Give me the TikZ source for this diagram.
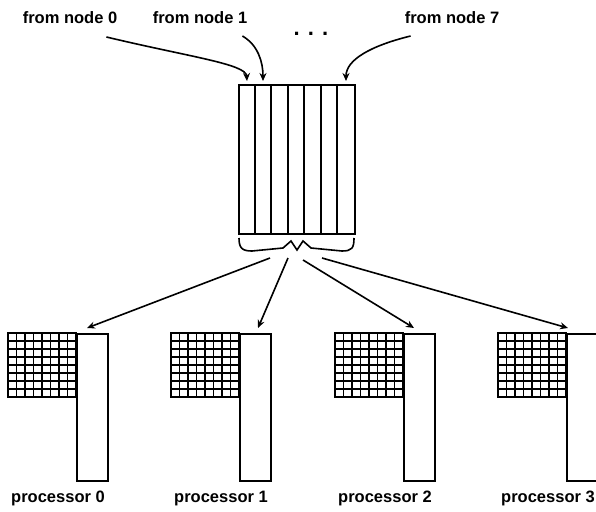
\documentclass[tikz,border=0pt]{standalone}
\usepackage{fontspec}
\setmainfont{Liberation Sans}
\usetikzlibrary{arrows.meta}

\tikzset{
  lbl/.style={font=\bfseries\fontsize{16.5}{20}\selectfont, inner sep=0pt, anchor=base},
  box/.style={draw, line width=2pt, inner sep=0pt},
  arr/.style={-{Stealth[length=8pt,width=7pt]}, line width=1.6pt},
}

\begin{document}
\begin{tikzpicture}[x=1pt,y=-1pt]
    \useasboundingbox (0,0) rectangle (596,511);

    % Draw the central buffer (seven slots)
    \node[box, minimum width=116pt, minimum height=149pt, anchor=north west] (buf) at (238,84) {};
    \foreach \i in {1,...,6} {
        \draw[line width=2pt] ({238+\i*16.57},84) -- ({238+\i*16.57},233);
    }

    % Label the incoming nodes
    \node[lbl] (n0) at (70,24) {from node 0};
    \node[lbl] (n1) at (200,24) {from node 1};
    \node[lbl] (n7) at (452,24) {from node 7};
    \node[lbl, font=\bfseries\fontsize{22}{24}\selectfont] (dots) at (311,36) {. . .};

    % Arrow ends on top of the buffer
    \coordinate (in0) at (247,81);
    \coordinate (in1) at (263,81);
    \coordinate (in7) at (346,81);

    \draw[arr] ([xshift=-11pt,yshift=-13pt]n0.base east) .. controls (190,57) and (246,64) .. (in0);
    \draw[arr] ([xshift=-5pt,yshift=-12pt]n1.base east) .. controls (258,45) and (263,62) .. (in1);
    \draw[arr] ([xshift=6pt,yshift=-12pt]n7.base west) .. controls (370,46) and (346,60) .. (in7);

    % Brace under the buffer
    \draw[line width=1.6pt] (239,238) .. controls (239,248) and (242,251) .. (252,251)
        -- (283,248) -- (291,241) -- (297,250) -- (303,241) -- (311,248)
        -- (342,251) .. controls (352,251) and (354,248) .. (354,238);
    \coordinate (tip) at (297,250);

    % Arrow starts below the brace
    \coordinate (f0) at (270,258);
    \coordinate (f1) at (288,258);
    \coordinate (f2) at (303,260);
    \coordinate (f3) at (322,258);

    % Draw the processors
    \foreach \x [count=\i from 0] in {8,171,335,498} {
        % the tall column
        \node[box, minimum width=31pt, minimum height=147pt, anchor=north west] (col\i) at ({\x+68},333) {};
        % the 8x8 grid
        \foreach \k in {1,...,7} {
            \draw[line width=1.1pt] ({\x+\k*8.5},333) -- ({\x+\k*8.5},397);
            \draw[line width=1.1pt] (\x,{333+\k*8}) -- ({\x+68},{333+\k*8});
        }
        \draw[line width=2pt] (\x,333) rectangle ({\x+68},397);
        % label
        \node[lbl] (p\i) at ({\x+50},502) {processor \i};
    }

    % Arrows to the processors
    \draw[arr] (f0) -- ([xshift=11pt,yshift=5pt]col0.north west);
    \draw[arr] (f1) -- ([xshift=19pt,yshift=5pt]col1.north west);
    \draw[arr] (f2) -- ([xshift=11pt,yshift=5pt]col2.north west);
    \draw[arr] (f3) -- ([xshift=2pt,yshift=5pt]col3.north west);
\end{tikzpicture}
\end{document}
